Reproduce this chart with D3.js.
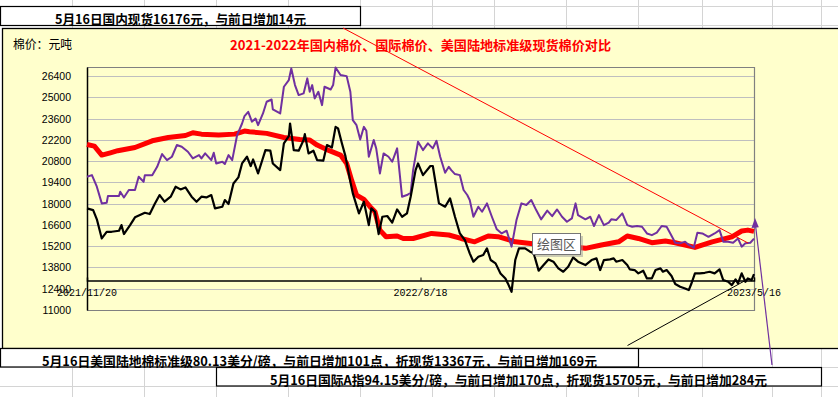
<!DOCTYPE html>
<html><head><meta charset="utf-8">
<script src="https://cdn.jsdelivr.net/npm/d3@7"></script>
<style>body{margin:0;background:#fff;overflow:hidden}</style>
</head><body><svg id="c" width="838" height="397"></svg>
<script>
// ---------- data ----------
const startDate = "2021/11/20";
const xTickLabels = ["2021/11/20", "2022/8/18", "2023/5/16"];
const yTicks = [11000, 12400, 13800, 15200, 16600, 18000, 19400, 20800, 22200, 23600, 25000, 26400];
const yMin = 11000, yMax = 27000, xAxisCross = 13000;

const titleText = "2021-2022年国内棉价、国际棉价、美国陆地标准级现货棉价对比";
const unitText = "棉价：元吨";
const noteDomestic = "5月16日国内现货16176元，与前日增加14元";
const noteUS = "5月16日美国陆地棉标准级80.13美分/磅，与前日增加101点，折现货13367元，与前日增加169元";
const noteIntl = "5月16日国际A指94.15美分/磅，与前日增加170点，折现货15705元，与前日增加284元";
const tipText = "绘图区";

// [days since start, value]
const domestic = [[0,21900],[6,21790],[12,21200],[19,21350],[25,21490],[39,21700],[53,22140],[66,22360],[80,22490],[86,22670],[93,22580],[107,22520],[120,22580],[128,22780],[132,22740],[146,22630],[160,22360],[173,22230],[181,22190],[187,21860],[197,21490],[206,21200],[211,20650],[215,19550],[219,18570],[225,18280],[230,17800],[234,17470],[238,16260],[243,15820],[252,15870],[257,15710],[265,15710],[280,16040],[294,15940],[304,15710],[315,15490],[326,15870],[334,15830],[348,15490],[364,15340],[380,15170],[394,15170],[405,15060],[418,15280],[432,15490],[439,15870],[448,15710],[459,15430],[470,15540],[478,15430],[494,15120],[508,15490],[516,15650],[524,15820],[532,16200],[537,16260],[542,16176]];

const intl = [[0,19770],[4,19880],[8,19120],[12,18020],[16,18060],[17,18500],[26,18500],[27,18790],[30,18410],[34,18900],[39,18900],[42,19770],[46,19440],[47,19880],[53,19880],[57,20430],[61,21270],[65,20870],[69,21090],[73,21860],[77,21750],[82,21420],[86,20980],[91,21200],[93,20980],[96,21310],[101,20870],[103,21350],[105,20650],[110,20760],[112,20610],[115,21200],[118,20870],[122,22520],[126,23280],[128,23770],[131,24050],[134,23400],[137,23600],[139,23170],[143,23940],[146,24710],[150,24860],[151,24210],[157,23940],[160,25700],[164,26140],[166,26900],[169,25810],[172,25150],[176,25260],[179,26250],[181,25370],[183,25810],[185,24930],[188,25370],[191,24490],[193,25700],[198,25520],[200,25810],[202,26970],[206,26470],[211,26400],[214,25370],[216,23500],[219,23170],[222,22230],[225,23060],[227,22800],[229,21090],[233,22190],[235,21640],[238,19990],[241,21310],[245,21090],[248,20760],[252,21640],[256,18460],[260,18570],[263,18720],[265,20210],[269,22080],[273,21530],[277,21970],[281,21640],[284,22140],[287,21090],[291,20040],[294,20430],[296,20210],[299,19950],[303,19880],[306,18900],[309,18570],[311,18240],[314,17140],[318,17800],[321,17470],[325,18020],[329,17140],[333,16310],[337,16040],[341,16220],[345,15170],[349,16920],[353,18020],[357,17910],[361,18240],[365,17580],[369,16970],[374,17540],[378,17180],[382,17620],[386,17140],[390,16810],[394,17030],[397,18020],[399,17250],[405,16970],[409,17140],[412,16530],[416,17250],[420,16590],[424,16750],[426,16970],[430,16920],[435,17360],[439,16590],[443,16480],[447,16530],[451,16480],[455,16040],[459,15930],[463,16090],[467,16530],[471,16480],[474,16040],[478,15430],[482,15390],[486,15500],[489,15280],[493,15100],[496,16090],[500,16040],[505,15820],[510,16040],[514,16260],[517,15500],[521,15500],[525,15430],[529,15710],[532,15170],[535,15390],[539,15430],[542,15705]];

const usSpot = [[0,17690],[5,17580],[8,16970],[12,15710],[16,16150],[20,16150],[26,16220],[28,16590],[30,16000],[35,16590],[39,17100],[43,17250],[47,17400],[51,17320],[55,17980],[59,18570],[63,18130],[68,18460],[72,19120],[76,18940],[80,19070],[85,18460],[89,18130],[93,18460],[97,18410],[101,18570],[104,17690],[110,17800],[112,18240],[115,17980],[119,19330],[123,19730],[126,20650],[130,21090],[133,20480],[135,20910],[139,19990],[145,21530],[149,21490],[151,20650],[157,20210],[160,21970],[164,22450],[165,23280],[168,21530],[172,21490],[176,22190],[177,22580],[180,21310],[184,21490],[187,20870],[192,20830],[195,21860],[199,21700],[202,23060],[204,22960],[207,22010],[210,21130],[214,19440],[216,18680],[221,17360],[225,18130],[229,16590],[231,17690],[234,17470],[237,16000],[240,17140],[244,17190],[248,16750],[252,17620],[256,17140],[260,17360],[263,18460],[267,20210],[269,20650],[273,19880],[279,20480],[281,20480],[286,18020],[291,17800],[295,18350],[299,17140],[303,16040],[307,15610],[311,14730],[314,14180],[318,14510],[322,14620],[325,15060],[328,14290],[332,14070],[336,13410],[340,13080],[342,12750],[345,12200],[348,14290],[351,15060],[356,15060],[360,14840],[363,14730],[367,13590],[371,13960],[375,14330],[379,14180],[383,13740],[387,13520],[391,13850],[395,14460],[399,14180],[405,13960],[410,14290],[414,14400],[417,13630],[420,14290],[425,14330],[428,14400],[430,14180],[435,14290],[439,13960],[441,13680],[445,13630],[448,13410],[452,13590],[455,13080],[459,13080],[462,13630],[466,13740],[468,13520],[471,13630],[475,13240],[478,12710],[482,12530],[486,12420],[489,12310],[491,12710],[494,13410],[498,13410],[502,13450],[506,13520],[510,13410],[514,13680],[517,12970],[521,12860],[524,12640],[527,13020],[529,12750],[532,13410],[535,12860],[537,13080],[540,12970],[542,13367]];

// ---------- drawing ----------
const svg = d3.select("#c");
const CJK = "'Noto Sans CJK SC','Noto Sans',sans-serif";
const parse = d3.timeParse("%Y/%m/%d");
const t0 = parse(startDate);
const tickDates = xTickLabels.map(parse);

// spreadsheet background grid
const colX = [72.5,144.5,216.5,288.5,360.5,432.5,494.5,566.5,638.5,702.5,772.5,821.5];
const rowY = [6.5,25.5,348.5,367.5,386.5];
const grid = svg.append("g").attr("stroke","#d4d4d4").attr("stroke-width",1);
colX.forEach(x => grid.append("line").attr("x1",x).attr("x2",x).attr("y1",0).attr("y2",397));
rowY.forEach(y => grid.append("line").attr("x1",0).attr("x2",838).attr("y1",y).attr("y2",y));

// chart area
svg.append("rect").attr("x",2.5).attr("y",28.5).attr("width",845).attr("height",320)
  .attr("fill","#FFFFCC").attr("stroke","#000").attr("stroke-width",1.3);

const L = 87, R = 754, T = 67, B = 310;
const x = d3.scaleTime().domain([tickDates[0], tickDates[2]]).range([L, R]);
const y = d3.scaleLinear().domain([yMin, yMax]).range([B, T]);

// gridlines
svg.append("g").selectAll("line").data(yTicks.filter(v => v > yMin)).join("line")
  .attr("x1",L).attr("x2",R).attr("y1",d=>Math.round(y(d))+0.5).attr("y2",d=>Math.round(y(d))+0.5)
  .attr("stroke","#bfbfbf").attr("stroke-width",1);

// plot border
svg.append("path").attr("d",`M${L},${T+0.5}H${R+0.5}V${B+0.5}H${L}`)
  .attr("fill","none").attr("stroke","#808080").attr("stroke-width",1.2);

// y axis
const yAxis = d3.axisLeft(y).tickValues(yTicks).tickSize(0).tickPadding(16).tickFormat(d3.format("d"));
const gy = svg.append("g").attr("transform",`translate(${L},0)`).call(yAxis);
gy.select(".domain").attr("stroke","#000").attr("stroke-width",1.5);
gy.selectAll("text").attr("font-family","'Liberation Sans',Arial,sans-serif").attr("font-size","10.5px").attr("fill","#000");

// category axis crossing at xAxisCross
const yc = Math.round(y(xAxisCross)) + 0.5;
const xAxis = d3.axisTop(x).tickValues(tickDates).tickSize(3).tickFormat((d,i)=>"");
const gx = svg.append("g").attr("transform",`translate(0,${yc})`).call(xAxis);
gx.select(".domain").attr("stroke","#000").attr("stroke-width",1.5);
gx.selectAll(".tick line").attr("stroke","#000");
svg.append("g").selectAll("text").data(tickDates).join("text")
  .attr("x",d=>x(d)).attr("y",yc+15).attr("text-anchor","middle")
  .attr("font-family","'Liberation Mono','DejaVu Sans Mono',monospace").attr("font-size","11px")
  .attr("textLength",(d,i)=>xTickLabels[i].length*6).attr("lengthAdjust","spacingAndGlyphs")
  .text((d,i)=>xTickLabels[i]);

// series
const line = d3.line().x(d => x(d3.timeDay.offset(t0, d[0]))).y(d => y(d[1]));
svg.append("path").datum(domestic).attr("d",line).attr("fill","none")
  .attr("stroke","#FF0000").attr("stroke-width",5).attr("stroke-linejoin","round");
svg.append("path").datum(intl).attr("d",line).attr("fill","none")
  .attr("stroke","#7030A0").attr("stroke-width",2).attr("stroke-linejoin","round");
svg.append("path").datum(usSpot).attr("d",line).attr("fill","none")
  .attr("stroke","#000").attr("stroke-width",2.2).attr("stroke-linejoin","round");

// texts in chart
svg.append("text").attr("x",13).attr("y",49).attr("font-family",CJK).attr("font-size","12.5px")
  .attr("fill","#000").attr("textLength",59).attr("lengthAdjust","spacingAndGlyphs").text(unitText);
svg.append("text").attr("x",230).attr("y",49.5).attr("font-family",CJK).attr("font-size","13px")
  .attr("font-weight","bold").attr("fill","#FF0000").attr("textLength",381).attr("lengthAdjust","spacingAndGlyphs").text(titleText);

// callout lines
svg.append("line").attr("x1",343).attr("y1",28).attr("x2",748).attr("y2",243).attr("stroke","#FF0000").attr("stroke-width",1);
svg.append("line").attr("x1",627.5).attr("y1",345.5).attr("x2",748).attr("y2",279).attr("stroke","#000").attr("stroke-width",1);
svg.append("line").attr("x1",772).attr("y1",365).attr("x2",755.5).attr("y2",225).attr("stroke","#7030A0").attr("stroke-width",1.2);
svg.append("path").attr("d","M755,218 L751.5,228 L758.8,227.2 Z").attr("fill","#7030A0");

// note boxes
function noteBox(x0, y0, w, h, tx, ty, tl, txt) {
  svg.append("rect").attr("x",x0).attr("y",y0).attr("width",w).attr("height",h)
    .attr("fill","#fff").attr("stroke","#000").attr("stroke-width",1.2);
  svg.append("text").attr("x",tx).attr("y",ty).attr("font-family",CJK).attr("font-size","13px")
    .attr("font-weight","bold").attr("fill","#000").attr("textLength",tl).attr("lengthAdjust","spacingAndGlyphs").text(txt);
}
noteBox(0.5, 6.5, 360, 19, 55, 24, 251, noteDomestic);
noteBox(0.5, 348.5, 638, 18.5, 42, 366, 555, noteUS);
noteBox(216.5, 367.5, 605, 18.5, 270, 384.5, 497, noteIntl);

// tooltip
svg.append("rect").attr("x",535).attr("y",236).attr("width",48).attr("height",21).attr("fill","#9a9a9a").attr("opacity",0.5);
svg.append("rect").attr("x",532.5).attr("y",233.5).attr("width",48).attr("height",21)
  .attr("fill","#fff").attr("stroke","#767676").attr("stroke-width",1);
svg.append("text").attr("x",556.5).attr("y",249).attr("text-anchor","middle").attr("font-family",CJK)
  .attr("font-size","13px").attr("fill","#575757").text(tipText);
</script></body></html>
